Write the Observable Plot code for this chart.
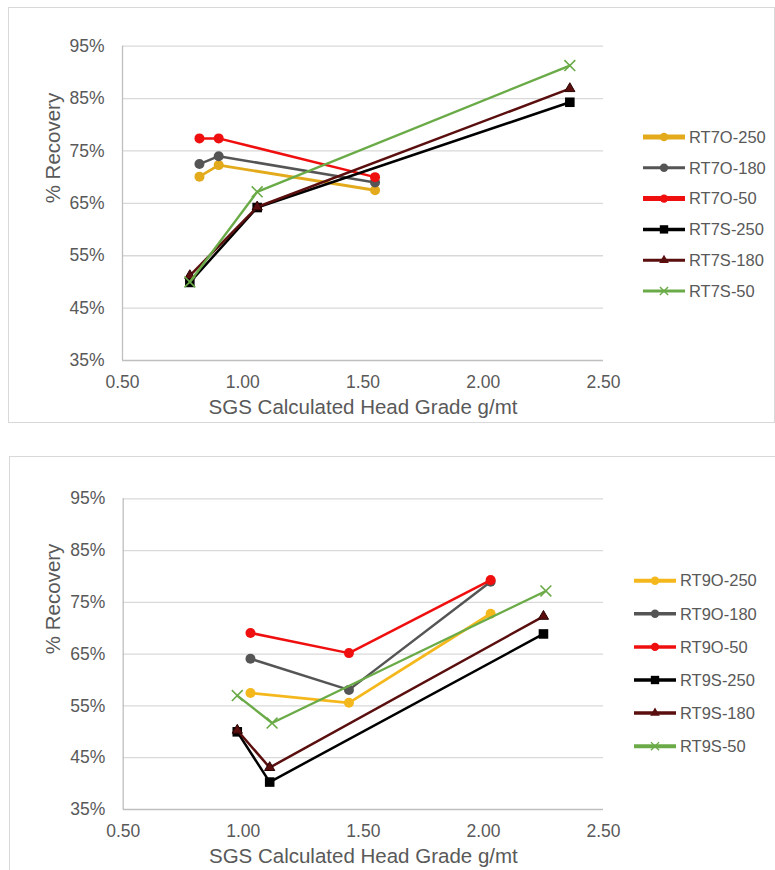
<!DOCTYPE html>
<html><head><meta charset="utf-8">
<script src="https://cdn.jsdelivr.net/npm/d3@7"></script>
<script src="https://cdn.jsdelivr.net/npm/@observablehq/plot@0.6"></script>
<style>
body{margin:0;background:#fff;width:775px;height:870px;position:relative;overflow:hidden;font-family:"Liberation Sans",Arial,sans-serif;}
.box{position:absolute;border:1px solid #d9d9d9;box-sizing:border-box;background:#fff;}
.box svg{position:absolute;left:0;top:0;}
#legend{position:absolute;left:0;top:0;pointer-events:none;}
</style></head><body>
<div id="c1" class="box" style="left:8px;top:7px;width:767px;height:416px"></div>
<div id="c2" class="box" style="left:9px;top:456px;width:767px;height:420px"></div>
<svg id="legend" width="775" height="870"></svg>
<script>
// ---- shared axis data ----
const xTicks = [0.5, 1.0, 1.5, 2.0, 2.5];
const yTicks = [35, 45, 55, 65, 75, 85, 95];
const xTitle = "SGS Calculated Head Grade g/mt";
const yTitle = "% Recovery";

// ---- chart 1 (RT7) ----
const rt7Series = ["RT7O-250", "RT7O-180", "RT7O-50", "RT7S-250", "RT7S-180", "RT7S-50"];
const rt7Colors = ["#E3AA1C", "#555555", "#F00F0F", "#000000", "#5A0E0E", "#6AAB48"];
const rt7Symbols = ["circle", "circle", "circle", "square", "triangle", "times"];
const rt7X = [
  [0.82, 0.90, 1.55],
  [0.82, 0.90, 1.55],
  [0.82, 0.90, 1.55],
  [0.78, 1.06, 2.36],
  [0.78, 1.06, 2.36],
  [0.78, 1.06, 2.36]
];
const rt7Y = [
  [70.1, 72.3, 67.5],
  [72.5, 74.0, 69.0],
  [77.4, 77.4, 70.0],
  [49.9, 64.2, 84.3],
  [51.2, 64.3, 86.9],
  [50.0, 67.2, 91.3]
];

// ---- chart 2 (RT9) ----
const rt9Series = ["RT9O-250", "RT9O-180", "RT9O-50", "RT9S-250", "RT9S-180", "RT9S-50"];
const rt9Colors = ["#F4B81C", "#555555", "#F00F0F", "#000000", "#5A0E0E", "#6AAB48"];
const rt9Symbols = ["circle", "circle", "circle", "square", "triangle", "times"];
const rt9X = [
  [1.03, 1.44, 2.03],
  [1.03, 1.44, 2.03],
  [1.03, 1.44, 2.03],
  [0.975, 1.11, 2.25],
  [0.975, 1.11, 2.25],
  [0.975, 1.12, 2.26]
];
const rt9Y = [
  [57.5, 55.6, 72.8],
  [64.1, 58.1, 79.0],
  [69.1, 65.2, 79.3],
  [50.0, 40.3, 68.9],
  [50.3, 43.1, 72.3],
  [57.0, 51.7, 77.2]
];

const textColor = "#595959";
const font = "'Liberation Sans', Arial, sans-serif";

function makeChart(cfg) {
  const rows = cfg.series.flatMap((s, i) => cfg.xs[i].map((x, j) => ({series: s, x, y: cfg.ys[i][j]})));
  const marks = [
    Plot.ruleY(yTicks.slice(1), {stroke: "#d9d9d9", strokeWidth: 1.3}),
    Plot.ruleY([yTicks[0]], {stroke: "#bfbfbf", strokeWidth: 1.3}),
    Plot.ruleX([xTicks[0]], {stroke: "#bfbfbf", strokeWidth: 1.3}),
    Plot.axisY({ticks: yTicks, tickFormat: d => d + "%", tickSize: 0, tickPadding: 18, fontSize: 17.5, fill: textColor, label: null}),
    Plot.axisX({ticks: xTicks, tickFormat: d3.format(".2f"), tickSize: 0, tickPadding: 15, fontSize: 17.5, fill: textColor, label: null}),
    Plot.text([xTitle], {text: d => d, frameAnchor: "bottom", dy: 47, fontSize: 20.5, fill: textColor, lineAnchor: "middle"}),
    Plot.text([yTitle], {text: d => d, frameAnchor: "left", dx: -69.5, rotate: -90, fontSize: 20.5, fill: textColor, lineAnchor: "middle"})
  ];
  cfg.series.forEach((s, i) => {
    const d = rows.filter(r => r.series === s);
    marks.push(Plot.line(d, {x: "x", y: "y", stroke: cfg.colors[i], strokeWidth: cfg.widths[i]}));
    const sym = cfg.symbols[i];
    if (sym === "times") {
      marks.push(Plot.dot(d, {x: "x", y: "y", symbol: "times", stroke: cfg.colors[i], strokeWidth: 1.6, r: 5}));
    } else if (sym === "triangle") {
      marks.push(Plot.dot(d, {x: "x", y: "y", symbol: "triangle", fill: cfg.colors[i], stroke: "#2a0505", strokeWidth: 1, r: 3.8}));
    } else if (sym === "square") {
      marks.push(Plot.dot(d, {x: "x", y: "y", symbol: "square", fill: cfg.colors[i], stroke: "none", r: 5.4}));
    } else {
      marks.push(Plot.dot(d, {x: "x", y: "y", symbol: "circle", fill: cfg.colors[i], stroke: "none", r: 5}));
    }
  });
  const chart = Plot.plot({
    width: 765, height: 413,
    marginLeft: cfg.ml, marginRight: cfg.mr, marginTop: cfg.mt, marginBottom: cfg.mb,
    x: {domain: [xTicks[0], xTicks[xTicks.length - 1]]},
    y: {domain: [yTicks[0], yTicks[yTicks.length - 1]]},
    style: {fontFamily: font, background: "transparent", overflow: "visible"},
    marks
  });
  document.getElementById(cfg.el).appendChild(chart);
}

makeChart({el: "c1", series: rt7Series, colors: rt7Colors, symbols: rt7Symbols, xs: rt7X, ys: rt7Y,
  widths: [2.8, 2.5, 2.5, 2.5, 2.5, 2.4], ml: 113, mr: 171, mt: 37.7, mb: 61});
makeChart({el: "c2", series: rt9Series, colors: rt9Colors, symbols: rt9Symbols, xs: rt9X, ys: rt9Y,
  widths: [2.8, 2.5, 2.5, 2.5, 2.5, 2.4], ml: 112.7, mr: 172, mt: 41.3, mb: 61});

// ---- legends ----
function legend(cfg) {
  const svg = d3.select("#legend");
  cfg.series.forEach((s, i) => {
    const y = cfg.y0 + i * cfg.dy;
    const g = svg.append("g");
    g.append("line").attr("x1", cfg.x0).attr("x2", cfg.x1).attr("y1", y).attr("y2", y)
      .attr("stroke", cfg.colors[i]).attr("stroke-width", cfg.widths[i]);
    const cx = (cfg.x0 + cfg.x1) / 2;
    const sym = cfg.symbols[i];
    const map = {circle: d3.symbolCircle, square: d3.symbolSquare, triangle: d3.symbolTriangle, times: d3.symbolTimes};
    const size = {circle: 55, square: 70, triangle: 40, times: 45}[sym];
    const p = g.append("path").attr("d", d3.symbol(map[sym], size)()).attr("transform", `translate(${cx},${y})`);
    if (sym === "times") p.attr("fill", "none").attr("stroke", cfg.colors[i]).attr("stroke-width", 1.4);
    else p.attr("fill", cfg.colors[i]);
    g.append("text").attr("x", cfg.tx).attr("y", y).attr("dy", "0.35em")
      .attr("font-family", font).attr("font-size", 16.5).attr("fill", textColor).text(s);
  });
}
legend({series: rt7Series, colors: rt7Colors, symbols: rt7Symbols, widths: [5, 3, 5, 3.5, 3, 3],
  x0: 643, x1: 685, tx: 689, y0: 137, dy: 30.8});
legend({series: rt9Series, colors: rt9Colors, symbols: rt9Symbols, widths: [4, 3.5, 3.5, 3.5, 3.5, 4],
  x0: 634, x1: 676, tx: 680, y0: 580.7, dy: 33.1});
</script>
</body></html>
